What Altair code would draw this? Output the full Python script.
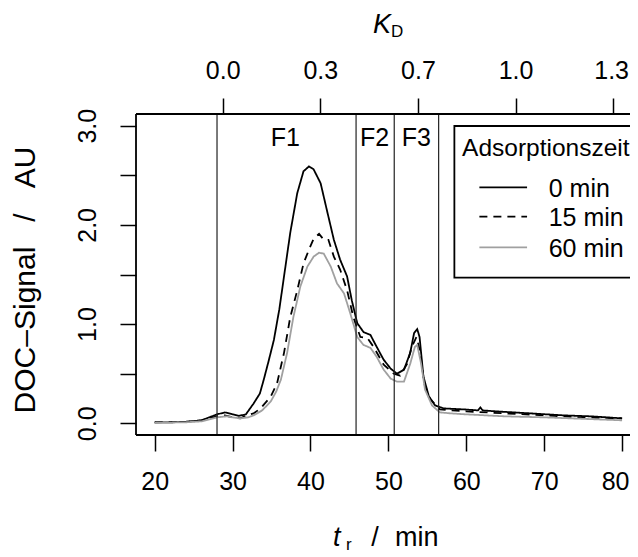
import altair as alt
import pandas as pd

# ---------------- data ----------------
series_names = ["0 min", "15 min", "60 min"]

t_0 = [20, 22, 24, 26, 27, 28, 29, 30, 30.8, 31.7, 32.7, 33.5, 34.0, 34.6, 35.3, 36.0,
       36.6, 37.4, 38.3, 39.1, 39.8, 40.4, 41.3, 42.1, 43.0, 43.8, 44.7, 45.3, 46.0,
       46.8, 47.7, 48.5, 49.4, 50.3, 51.1, 52.0, 52.8, 53.3, 53.7, 54.0, 54.5, 55.2,
       56.0, 57.1, 59.7, 61.5, 61.8, 62.1, 63.9, 68.2, 72.5, 76, 80]
y_0 = [0.01, 0.01, 0.015, 0.03, 0.06, 0.09, 0.11, 0.09, 0.075, 0.09, 0.2, 0.30, 0.44, 0.62, 0.84, 1.15,
       1.48, 1.92, 2.32, 2.54, 2.59, 2.56, 2.42, 2.15, 1.85, 1.65, 1.48, 1.24, 1.01,
       0.92, 0.89, 0.77, 0.64, 0.55, 0.50, 0.54, 0.71, 0.91, 0.95, 0.87, 0.47, 0.27,
       0.18, 0.15, 0.14, 0.13, 0.16, 0.13, 0.12, 0.10, 0.08, 0.07, 0.05]

t_15 = [20, 24, 26, 27, 28, 29, 30, 31, 31.8, 32.7, 33.6, 34.9, 35.7, 36.6, 37.4, 38.3,
        39.1, 39.8, 40.4, 41.1, 41.7, 42.3, 43.0, 43.8, 44.7, 45.5, 46.4, 47.3, 48.1,
        49.4, 50.7, 51.5, 52.4, 53.0, 53.6, 54.1, 54.6, 55.4, 56.6, 58, 60, 65, 70, 75, 80]
y_15 = [0.01, 0.015, 0.03, 0.05, 0.07, 0.08, 0.06, 0.05, 0.08, 0.10, 0.15, 0.27, 0.40, 0.71, 1.07, 1.34,
        1.61, 1.75, 1.86, 1.91, 1.85, 1.85, 1.68, 1.55, 1.34, 1.07, 0.87, 0.86, 0.77,
        0.59, 0.50, 0.48, 0.60, 0.77, 0.87, 0.71, 0.40, 0.24, 0.14, 0.13, 0.12, 0.10, 0.08, 0.06, 0.05]

t_60 = [20, 24, 26, 27, 28, 29.2, 30, 31, 32, 32.7, 33.8, 34.9, 35.6, 36.2, 37.0, 37.8,
        38.7, 39.6, 40.4, 41.1, 41.7, 42.6, 43.4, 44.3, 45.1, 46.0, 46.8, 47.7, 48.5,
        49.4, 50.3, 51.1, 52.0, 52.8, 53.4, 53.7, 54.2, 54.7, 55.6, 56.6, 58, 60, 65, 70, 75, 80]
y_60 = [0.005, 0.01, 0.02, 0.04, 0.06, 0.07, 0.06, 0.05, 0.06, 0.08, 0.13, 0.22, 0.32, 0.44, 0.71, 1.07,
        1.38, 1.58, 1.68, 1.72, 1.71, 1.58, 1.41, 1.31, 1.11, 0.87, 0.79, 0.76, 0.67,
        0.54, 0.45, 0.42, 0.42, 0.60, 0.77, 0.79, 0.60, 0.34, 0.18, 0.11, 0.10, 0.09, 0.07, 0.06, 0.045, 0.03]

bottom_ticks = [20, 30, 40, 50, 60, 70, 80]
left_ticks = [0.0, 0.5, 1.0, 1.5, 2.0, 2.5, 3.0]
kd_positions = [28.73, 41.26, 53.79, 66.32, 78.85]
kd_labels = ["0.0", "0.3", "0.7", "1.0", "1.3"]

fraction_bounds = [28.0, 45.85, 50.75, 56.45]
fraction_names = ["F1", "F2", "F3"]
fraction_label_t = [36.78, 48.24, 53.6]
fraction_label_y = [2.88, 2.88, 2.88]

legend_title = "Adsorptionszeit"
legend_box = {"t1": 58.47, "t2": 84.0, "y1": 1.468, "y2": 2.997}
legend_line_t = [61.68, 67.8]
legend_line_y = [2.379, 2.083, 1.774]
legend_text_y = [2.362, 2.067, 1.759]
legend_text_t = 70.58
legend_title_pos = (59.46, 2.763)

# ---------------- chart ----------------
FONT = "Liberation Sans"
W, H = 494, 321
xs = alt.Scale(domain=[17.6, 17.6 + 494 / 7.79], nice=False, zero=False)
ys = alt.Scale(domain=[-0.118, 3.118], nice=False, zero=False)
color_scale = alt.Scale(domain=series_names, range=["#000000", "#000000", "#a0a0a0"])
dash_scale = alt.Scale(domain=series_names, range=[[1, 0], [8, 6], [1, 0]])

frames = []
for name, ts, vs in zip(series_names, [t_0, t_15, t_60], [y_0, y_15, y_60]):
    frames.append(pd.DataFrame({"t": ts, "signal": vs, "series": name}))
df = pd.concat(frames, ignore_index=True)

lines = alt.Chart(df).mark_line(strokeWidth=1.8).encode(
    x=alt.X("t:Q", scale=xs, axis=alt.Axis(
        orient="bottom", values=bottom_ticks, title=None, grid=False, domain=False,
        tickSize=16, tickWidth=1.5, tickColor="black", labelFontSize=25,
        labelPadding=18, labelColor="black", labelFont=FONT, labelFlush=False,
        labelOverlap=False, labelBound=False,
        labelOffset=alt.ConditionalAxisNumber(
            condition={"test": "datum.value == 80", "value": -7}, value=0))),
    y=alt.Y("signal:Q", scale=ys, axis=alt.Axis(
        orient="left", values=left_ticks, title=None, grid=False, domain=False,
        tickSize=16, tickWidth=1.5, tickColor="black", labelFontSize=25,
        labelPadding=20, labelColor="black", labelFont=FONT, labelAngle=270,
        labelAlign="center", labelBaseline="bottom", labelFlush=False,
        labelOverlap=False, labelBound=False,
        labelExpr="datum.value == 0 || datum.value == 1 || datum.value == 2 || datum.value == 3 ? format(datum.value, '.1f') : ''")),
    color=alt.Color("series:N", scale=color_scale, legend=None),
    strokeDash=alt.StrokeDash("series:N", scale=dash_scale, legend=None),
)

kd_map = "{" + ", ".join(f"'{p}': '{l}'" for p, l in zip(kd_positions, kd_labels)) + "}"
top_axis = alt.Chart(pd.DataFrame({"t": kd_positions})).mark_point(opacity=0).encode(
    x=alt.X("t:Q", scale=xs, axis=alt.Axis(
        orient="top", values=kd_positions, title=None, grid=False, domain=False,
        tickSize=16, tickWidth=1.5, tickColor="black", labelFontSize=25,
        labelPadding=15, labelColor="black", labelFont=FONT, labelFlush=False,
        labelOverlap=False, labelBound=False, labelBaseline="bottom",
        labelOffset=alt.ConditionalAxisNumber(
            condition={"test": f"datum.value == {kd_positions[-1]}", "value": -2}, value=0),
        labelExpr=kd_map + "[datum.value]")),
    y=alt.value(0),
)

vlines = alt.Chart(pd.DataFrame({"t": fraction_bounds})).mark_rule(
    color="#222222", strokeWidth=1.2).encode(
    x=alt.X("t:Q", scale=xs, axis=None), y=alt.value(0), y2=alt.value(H))

one = pd.DataFrame({"a": [0]})
frame_left = alt.Chart(one).mark_rule(color="black", strokeWidth=1.8).encode(
    x=alt.value(0), y=alt.value(0), y2=alt.value(H))
frame_top = alt.Chart(one).mark_rule(color="black", strokeWidth=1.8).encode(
    x=alt.value(0), x2=alt.value(W + 20), y=alt.value(0))
frame_bottom = alt.Chart(one).mark_rule(color="black", strokeWidth=1.8).encode(
    x=alt.value(0), x2=alt.value(W + 20), y=alt.value(H))

flabels = alt.Chart(pd.DataFrame({"t": fraction_label_t, "y": fraction_label_y,
                                  "name": fraction_names})).mark_text(
    font=FONT, fontSize=25, color="black", align="center", baseline="middle").encode(
    x=alt.X("t:Q", scale=xs, axis=None),
    y=alt.Y("y:Q", scale=ys, axis=None),
    text="name:N")

lbox = alt.Chart(pd.DataFrame([legend_box])).mark_rect(
    fill="white", stroke="black", strokeWidth=1.8).encode(
    x=alt.X("t1:Q", scale=xs, axis=None), x2="t2:Q",
    y=alt.Y("y1:Q", scale=ys, axis=None), y2="y2:Q")

ltitle = alt.Chart(pd.DataFrame({"t": [legend_title_pos[0]], "y": [legend_title_pos[1]],
                                 "txt": [legend_title]})).mark_text(
    font=FONT, fontSize=24.5, color="black", align="left", baseline="middle").encode(
    x=alt.X("t:Q", scale=xs, axis=None), y=alt.Y("y:Q", scale=ys, axis=None), text="txt:N")

lsamples = alt.Chart(pd.DataFrame({"t1": legend_line_t[0], "t2": legend_line_t[1],
                                   "y": legend_line_y, "series": series_names})).mark_rule(
    strokeWidth=1.8).encode(
    x=alt.X("t1:Q", scale=xs, axis=None), x2="t2:Q",
    y=alt.Y("y:Q", scale=ys, axis=None),
    color=alt.Color("series:N", scale=color_scale, legend=None),
    strokeDash=alt.StrokeDash("series:N", scale=dash_scale, legend=None))

ltexts = alt.Chart(pd.DataFrame({"t": legend_text_t, "y": legend_text_y,
                                 "series": series_names})).mark_text(
    font=FONT, fontSize=25, color="black", align="left", baseline="middle").encode(
    x=alt.X("t:Q", scale=xs, axis=None), y=alt.Y("y:Q", scale=ys, axis=None), text="series:N")

# axis titles (with subscripts)
def label(txt, x, y, size=26, style="normal", align="left", baseline="alphabetic", angle=0):
    return alt.Chart(one).mark_text(
        text=txt, font=FONT, fontSize=size, fontStyle=style, color="black",
        align=align, baseline=baseline, angle=angle).encode(x=alt.value(x), y=alt.value(y))

NB = "\u00a0"
titles = [
    label("K", 237, -81, size=27, style="italic"),
    label("D", 255, -77, size=17),
    label("t", 197, 432, size=27, style="italic"),
    label("r", 210, 436, size=17),
    label("/", 239, 432, size=27, align="center"),
    label("min", 259, 432, size=27),
    label("DOC\u2013Signal" + NB * 3 + "/" + NB * 3 + "AU", -110, 166, size=30,
          align="center", baseline="middle", angle=270),
]

chart = alt.layer(
    lines, top_axis, vlines, frame_left, frame_top, frame_bottom, flabels,
    lbox, ltitle, lsamples, ltexts, *titles
).resolve_axis(x="independent", y="independent").properties(
    width=W, height=H,
    autosize=alt.AutoSizeParams(type="none"),
    padding={"left": 128, "top": 106, "right": 0, "bottom": 122},
).configure_view(stroke=None).configure(font=FONT)

chart.save("out.html", embed_options={"renderer": "svg", "actions": False})
